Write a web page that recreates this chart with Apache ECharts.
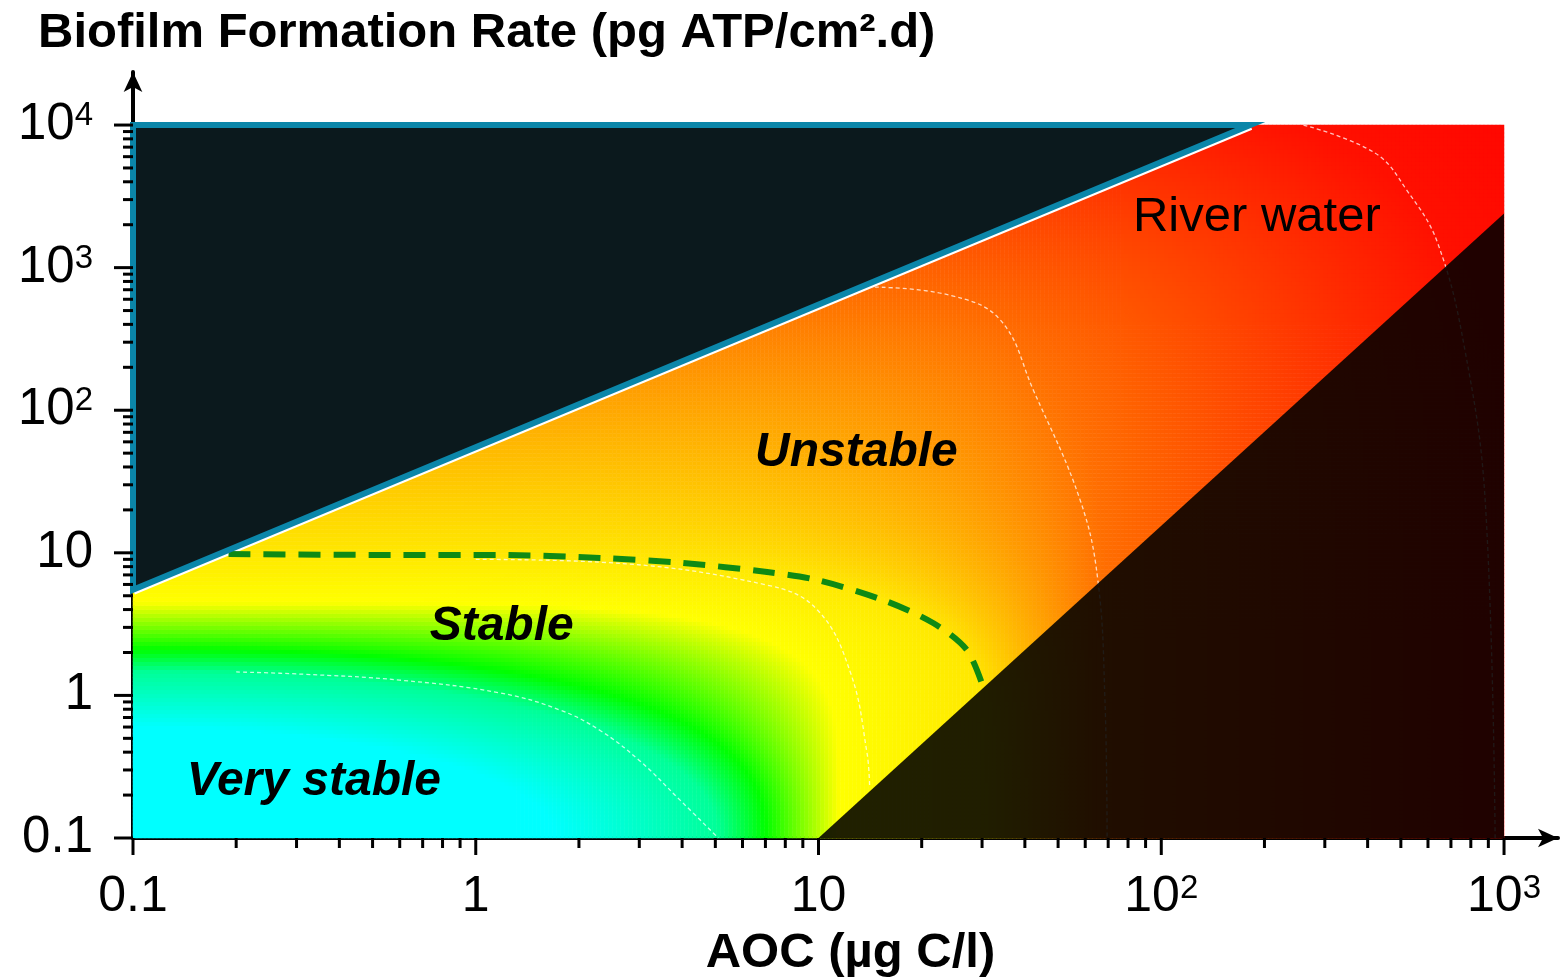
<!DOCTYPE html>
<html>
<head>
<meta charset="utf-8">
<script src="https://cdn.jsdelivr.net/npm/echarts@6/dist/echarts.min.js"></script>
<style>
html,body{margin:0;padding:0;background:#fff;}
#chart{width:1561px;height:980px;}
</style>
</head>
<body>
<div id="chart"></div>
<script>
// ---------------- data ----------------
const chartTitle = 'Biofilm Formation Rate (pg ATP/cm\u00b2.d)';
const xAxisTitle = 'AOC (\u00b5g C/l)';
const xDomain = [0.1, 1000];      // AOC (µg C/l)
const yDomain = [0.1, 10000];     // BFR (pg ATP/cm2.d)
const xAxisEnd = 1437;            // axis line (with arrow) runs a bit past 10^3
const yAxisEnd = 23550;           // axis line (with arrow) runs a bit past 10^4

const xMajorTicks = [0.1, 1, 10, 100, 1000];
const xMinorTicks = [0.2,0.3,0.4,0.5,0.6,0.7,0.8,0.9, 2,3,4,5,6,7,8,9, 20,30,40,50,60,70,80,90, 200,300,400,500,600,700,800,900];
const yMajorTicks = [0.1, 1, 10, 100, 1000, 10000];
const yMinorTicks = [0.2,0.3,0.4,0.5,0.6,0.7,0.8,0.9, 2,3,4,5,6,7,8,9, 20,30,40,50,60,70,80,90, 200,300,400,500,600,700,800,900, 2000,3000,4000,5000,6000,7000,8000,9000];

// colour field: each colour stop sits on a rounded boundary that meets the
// x axis at boundaryAOC and the left edge at boundaryBFR
const boundaryAOC   = [1.7,  5.1,  7.0,  11.5, 31.6, 69,   955,   4000];
const boundaryBFR   = [0.6,  1.46, 2.1,  4.5,  9.8,  890,  26300, 200000];
const boundaryShape = [2,    2.2,  2.5,  5,    4.5,  6,    6,     6];
const boundaryColor = ['#00ffff','#00ff98','#00ff00','#ffff00','#ffe800','#ff6e00','#ff1000','#ff0000'];

// upper-left masked triangle (outlined in blue)
const upperMaskX = [0.1, 0.1, 181.8];
const upperMaskY = [5.5, 10000, 10000];
// lower-right masked triangle
const lowerMaskX = [10, 1000, 1000];
const lowerMaskY = [0.1, 2400, 0.1];

// green dashed stability limit
const limitX = [0.19, 0.6, 1.18, 2.3, 4.03, 7.08, 9.9, 15.4, 21.6, 27.1, 30.2];
const limitY = [9.8, 9.66, 9.66, 9.2, 8.48, 7.33, 6.45, 4.67, 3.22, 2.08, 1.15];

// thin white dashed iso-lines
const iso1X = [0.2, 0.31, 0.6, 1.18, 1.76, 2.3, 3.0, 3.94, 5.1];
const iso1Y = [1.46, 1.41, 1.28, 1.04, 0.79, 0.57, 0.35, 0.185, 0.1];
const iso2X = [1.0, 2.3, 7.08, 9.9, 12.4, 13.85, 14.1];
const iso2Y = [9.0, 8.6, 5.94, 4.0, 1.44, 0.395, 0.228];
const iso3X = [14.6, 24.2, 33.9, 42.3, 58.0, 65.3, 68.5, 69.5];
const iso3Y = [731, 640, 430, 139, 23.4, 6.45, 0.93, 0.1];
const iso4X = [260, 420, 520, 640, 769, 881, 942];
const iso4Y = [10000, 6370, 3500, 1490, 264, 23.4, 0.1];

// region labels
const regionNames = ['Very stable', 'Stable', 'Unstable', 'River water'];
const regionX = [0.337, 1.19, 12.9, 190];
const regionY = [0.247, 3.02, 50, 2230];

// ---------------- build options ----------------
const FONT = "'Liberation Sans', Arial, Helvetica, sans-serif";
const lx0 = Math.log10(xDomain[0]), ly0 = Math.log10(yDomain[0]);
const spanX = Math.log10(xDomain[1]) - lx0, spanY = Math.log10(yDomain[1]) - ly0;
const U = boundaryAOC.map(v => Math.log10(v) - lx0);
const V = boundaryBFR.map(v => Math.log10(v) - ly0);

function levelAt(u, v) {
  const r = Math.hypot(u, v);
  if (r === 0) return 0;
  let prevS = 0;
  for (let k = 0; k < U.length; k++) {
    const p = boundaryShape[k];
    const g = Math.pow(u / U[k], p) + Math.pow(v / V[k], p);
    const s = Math.pow(g, -1 / p);
    if (s >= 1) {
      if (k === 0) return 0;
      const a = r * prevS, b = r * s;
      return (k - 1) + (r - a) / (b - a);
    }
    prevS = s;
  }
  return U.length - 1;
}

const NX = 343, NY = 178;
const cellX = [], cellY = [], field = [];
for (let i = 0; i < NX; i++) cellX.push(i);
for (let j = 0; j < NY; j++) cellY.push(j);
for (let i = 0; i < NX; i++) {
  const u = (i + 0.5) * spanX / NX;
  for (let j = 0; j < NY; j++) {
    const v = (j + 0.5) * spanY / NY;
    field.push([i, j, levelAt(u, v)]);
  }
}

function powLabel(val) {
  const e = Math.log10(val);
  const re = Math.round(e);
  if (Math.abs(e - re) > 1e-6) return '';
  if (re === -1) return '0.1';
  if (re === 0) return '1';
  if (re === 1) return '10';
  return '10{s|' + re + '}';
}
const labelRich = { s: { fontSize: 33, fontFamily: FONT, color: '#000', verticalAlign: 'top', lineHeight: 30 } };

function polygonRenderer(xs, ys, style) {
  return function (params, api) {
    if (params.dataIndex !== 0) return null;
    const pts = xs.map((x, i) => api.coord([x, ys[i]]));
    return { type: 'polygon', shape: { points: pts }, style: style };
  };
}

const zipXY = (xs, ys) => xs.map((x, i) => [x, ys[i]]);

function isoSeries(xs, ys) {
  return {
    type: 'line', xAxisIndex: 0, yAxisIndex: 0, data: zipXY(xs, ys), smooth: 0.4,
    showSymbol: false, silent: true, z: 2,
    lineStyle: { color: 'rgba(255,255,255,0.75)', width: 1.3, type: [4, 3] }
  };
}

const regionLabelStyles = [
  { fontStyle: 'italic', fontWeight: 'bold', fontSize: 48 },
  { fontStyle: 'italic', fontWeight: 'bold', fontSize: 48 },
  { fontStyle: 'italic', fontWeight: 'bold', fontSize: 48 },
  { fontStyle: 'normal', fontWeight: 'normal', fontSize: 49 }
];

const option = {
  animation: false,
  title: {
    text: chartTitle, left: 33, top: 4,
    textStyle: { fontSize: 49, fontWeight: 'bold', fontFamily: FONT, color: '#000' }
  },
  grid: [
    { left: 133, right: 3, top: 72, bottom: 142, outerBoundsMode: 'none' },
    { left: 133, top: 125, width: 1371, height: 713, outerBoundsMode: 'none' }
  ],
  xAxis: [
    {
      type: 'log', logBase: 10, min: xDomain[0], max: xAxisEnd, gridIndex: 0,
      name: xAxisTitle, nameLocation: 'middle', nameGap: 91,
      nameTextStyle: { fontSize: 49, fontWeight: 'bold', fontFamily: FONT, color: '#000', padding: [0, 0, 0, 10] },
      axisLine: { show: true, lineStyle: { color: '#000', width: 4 }, symbol: ['none', 'arrow'], symbolSize: [14, 20] },
      axisTick: { show: false }, minorTick: { show: false },
      splitLine: { show: false },
      axisLabel: { formatter: powLabel, showMaxLabel: false, fontSize: 50, fontFamily: FONT, color: '#000', margin: 34, rich: labelRich }
    },
    { type: 'category', data: cellX, gridIndex: 1, show: false, boundaryGap: true }
  ],
  yAxis: [
    {
      type: 'log', logBase: 10, min: yDomain[0], max: yAxisEnd, gridIndex: 0,
      axisLine: { show: true, lineStyle: { color: '#000', width: 4 }, symbol: ['none', 'arrow'], symbolSize: [14, 20] },
      axisTick: { show: false }, minorTick: { show: false },
      splitLine: { show: false },
      axisLabel: { formatter: powLabel, showMaxLabel: false, fontSize: 51, fontFamily: FONT, color: '#000', margin: 40, rich: labelRich }
    },
    { type: 'category', data: cellY, gridIndex: 1, show: false, boundaryGap: true }
  ],
  visualMap: {
    show: false, type: 'continuous', min: 0, max: boundaryColor.length - 1,
    dimension: 2, seriesIndex: 0, inRange: { color: boundaryColor }
  },
  series: [
    {
      type: 'heatmap', xAxisIndex: 1, yAxisIndex: 1, data: field,
      progressive: 0, silent: true, z: 1, itemStyle: { borderWidth: 0 }
    },
    isoSeries(iso1X, iso1Y),
    isoSeries(iso2X, iso2Y),
    isoSeries(iso3X, iso3Y),
    isoSeries(iso4X, iso4Y),
    { // white rim below the blue diagonal
      type: 'line', data: zipXY([upperMaskX[0], upperMaskX[2]], [upperMaskY[0], upperMaskY[2]]),
      showSymbol: false, silent: true, z: 3, lineStyle: { color: '#ffffff', width: 10 }
    },
    {
      type: 'custom', coordinateSystem: 'cartesian2d', xAxisIndex: 0, yAxisIndex: 0, z: 4, silent: true,
      data: zipXY(upperMaskX, upperMaskY),
      renderItem: polygonRenderer(upperMaskX, upperMaskY, { fill: '#0b191d' })
    },
    {
      type: 'custom', coordinateSystem: 'cartesian2d', xAxisIndex: 0, yAxisIndex: 0, z: 4, silent: true,
      data: zipXY(lowerMaskX, lowerMaskY),
      renderItem: polygonRenderer(lowerMaskX, lowerMaskY, { fill: 'rgba(0,0,0,0.875)' })
    },
    {
      type: 'line', data: zipXY(limitX, limitY), smooth: 0.3, showSymbol: false, silent: true, z: 5,
      lineStyle: { color: '#0f8a14', width: 6, type: [22, 13] }
    },
    {
      type: 'custom', coordinateSystem: 'cartesian2d', xAxisIndex: 0, yAxisIndex: 0, z: 6, silent: true,
      data: zipXY(upperMaskX, upperMaskY),
      renderItem: polygonRenderer(upperMaskX, upperMaskY, { fill: 'none', stroke: '#0b86a9', lineWidth: 6, lineJoin: 'miter' })
    },
    {
      type: 'scatter', symbolSize: 0, silent: true, z: 7,
      itemStyle: { opacity: 1 },
      data: regionNames.map((n, i) => ({
        value: [regionX[i], regionY[i]], name: n,
        label: Object.assign({ show: true, position: 'inside', formatter: n, color: '#000', opacity: 1, fontFamily: FONT }, regionLabelStyles[i])
      }))
    },
    {
      type: 'custom', coordinateSystem: 'cartesian2d', xAxisIndex: 0, yAxisIndex: 0, z: 8, silent: true,
      data: xMajorTicks.map(v => [v, yDomain[0], 1]).concat(xMinorTicks.map(v => [v, yDomain[0], 0])),
      renderItem: function (params, api) {
        const p = api.coord([api.value(0), api.value(1)]);
        const len = api.value(2) ? 17 : 10;
        return { type: 'line', shape: { x1: p[0], y1: p[1], x2: p[0], y2: p[1] + len }, style: { stroke: '#000', lineWidth: 3 } };
      }
    },
    {
      type: 'custom', coordinateSystem: 'cartesian2d', xAxisIndex: 0, yAxisIndex: 0, z: 8, silent: true,
      data: yMajorTicks.map(v => [xDomain[0], v, 1]).concat(yMinorTicks.map(v => [xDomain[0], v, 0])),
      renderItem: function (params, api) {
        const p = api.coord([api.value(0), api.value(1)]);
        const len = api.value(2) ? 19 : 10;
        return { type: 'line', shape: { x1: p[0] - len, y1: p[1], x2: p[0], y2: p[1] }, style: { stroke: '#000', lineWidth: 3 } };
      }
    }
  ]
};

const chart = echarts.init(document.getElementById('chart'), null, { renderer: 'canvas' });
chart.setOption(option);
</script>
</body>
</html>
